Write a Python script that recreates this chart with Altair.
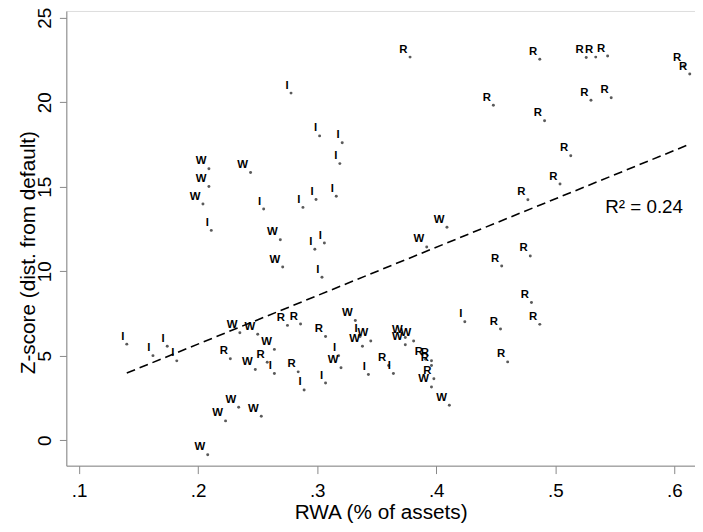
import altair as alt
import pandas as pd

# Data
r_x = [0.378, 0.448, 0.487, 0.526, 0.534, 0.544, 0.608, 0.613, 0.530, 0.547,
       0.491, 0.513, 0.504, 0.477, 0.455, 0.479, 0.480, 0.454, 0.487, 0.460,
       0.275, 0.286, 0.227, 0.258, 0.284, 0.307, 0.360, 0.391, 0.396, 0.396, 0.398]
r_y = [22.67, 19.82, 22.55, 22.65, 22.67, 22.73, 22.15, 21.67, 20.12, 20.27,
       18.91, 16.84, 15.16, 14.23, 10.31, 10.91, 8.15, 6.58, 6.86, 4.64,
       6.80, 6.88, 4.83, 4.62, 4.05, 6.14, 4.42, 4.80, 4.71, 4.42, 3.64]

i_x = [0.278, 0.255, 0.211, 0.302, 0.321, 0.319, 0.316, 0.299, 0.288, 0.306,
       0.298, 0.304, 0.140, 0.174, 0.162, 0.182, 0.264, 0.289, 0.424, 0.336,
       0.318, 0.343, 0.364, 0.307]
i_y = [20.54, 13.68, 12.42, 18.01, 17.60, 16.37, 14.44, 14.25, 13.78, 11.67,
       11.30, 9.65, 5.69, 5.56, 5.01, 4.70, 3.95, 2.98, 7.02, 6.14,
       5.01, 3.89, 3.95, 3.39]

w_x = [0.209, 0.244, 0.209, 0.204, 0.269, 0.271, 0.409, 0.392, 0.235, 0.250,
       0.264, 0.248, 0.332, 0.338, 0.345, 0.374, 0.381, 0.374, 0.320, 0.396,
       0.411, 0.234, 0.223, 0.253, 0.208]
w_y = [16.06, 15.85, 15.01, 13.98, 11.87, 10.25, 12.61, 11.44, 6.37, 6.27,
       5.38, 4.19, 7.09, 5.56, 5.88, 6.08, 5.88, 5.65, 4.29, 3.16,
       2.08, 1.95, 1.15, 1.42, -0.86]

fit_x = [0.140, 0.612]
fit_y = [3.98, 17.49]

r2_text = ["R² = 0.24"]
r2_x = [0.542]
r2_y = [13.45]

x_ticks = [0.1, 0.2, 0.3, 0.4, 0.5, 0.6]
y_ticks = [0, 5, 10, 15, 20, 25]

rows = []
for lab, xs, ys in (("R", r_x, r_y), ("I", i_x, i_y), ("W", w_x, w_y)):
    for a, b in zip(xs, ys):
        rows.append({"x": a, "y": b, "g": lab})
df = pd.DataFrame(rows)
fit_df = pd.DataFrame({"x": fit_x, "y": fit_y})
r2_df = pd.DataFrame({"x": r2_x, "y": r2_y, "t": r2_text})

FONT = "Liberation Sans"

x_enc = alt.X(
    "x:Q",
    scale=alt.Scale(domain=[0.0892, 0.6174], nice=False, zero=False),
    axis=alt.Axis(
        values=x_ticks,
        labelExpr="substring(format(datum.value, '.1f'), 1)",
        title="RWA (% of assets)",
        grid=False,
        tickSize=8,
        labelPadding=23,
        labelBaseline="alphabetic",
        labelFontSize=19,
        labelFlush=False,
        labelOverlap=False,
        titleFontSize=21,
        titleFontWeight="normal",
        titleBaseline="alphabetic",
        titleY=53,
    ),
)
y_enc = alt.Y(
    "y:Q",
    scale=alt.Scale(domain=[-1.5, 25.4], nice=False, zero=False),
    axis=alt.Axis(
        values=y_ticks,
        title="Z-score (dist. from default)",
        grid=False,
        tickSize=7,
        labelAngle=270,
        labelAlign="center",
        labelBaseline="alphabetic",
        labelPadding=9,
        labelFontSize=19,
        labelOverlap=False,
        titleFontSize=21,
        titleFontWeight="normal",
        titleAngle=270,
        titleAlign="center",
        titleBaseline="alphabetic",
        titleX=-32,
        titleY=244,
    ),
)

line = alt.Chart(fit_df).mark_line(
    color="black", strokeDash=[9, 5], strokeWidth=1.6
).encode(x=x_enc, y=y_enc)

points = alt.Chart(df).mark_circle(size=9, color="#5a5a5a", opacity=1).encode(
    x="x:Q", y="y:Q"
)

labels = alt.Chart(df).mark_text(
    align="right", baseline="alphabetic", dx=-2.5, dy=-4.5,
    fontSize=11.5, fontWeight="bold", font=FONT, color="black"
).encode(x="x:Q", y="y:Q", text="g:N")

r2 = alt.Chart(r2_df).mark_text(
    align="left", baseline="alphabetic", fontSize=19, font=FONT, color="black"
).encode(x="x:Q", y="y:Q", text="t:N")

chart = alt.layer(line, points, labels, r2).properties(
    width=636,
    height=460,
    padding={"left": 59, "top": 0, "right": 0, "bottom": 56},
    autosize="none",
).configure_view(stroke=None).configure_axis(
    labelFont=FONT, titleFont=FONT, labelColor="black", titleColor="black",
    domainColor="#222", tickColor="#222", domainWidth=1, tickWidth=1,
).configure(background="white")

chart.save("out.html", embed_options={"renderer": "svg", "actions": False})
